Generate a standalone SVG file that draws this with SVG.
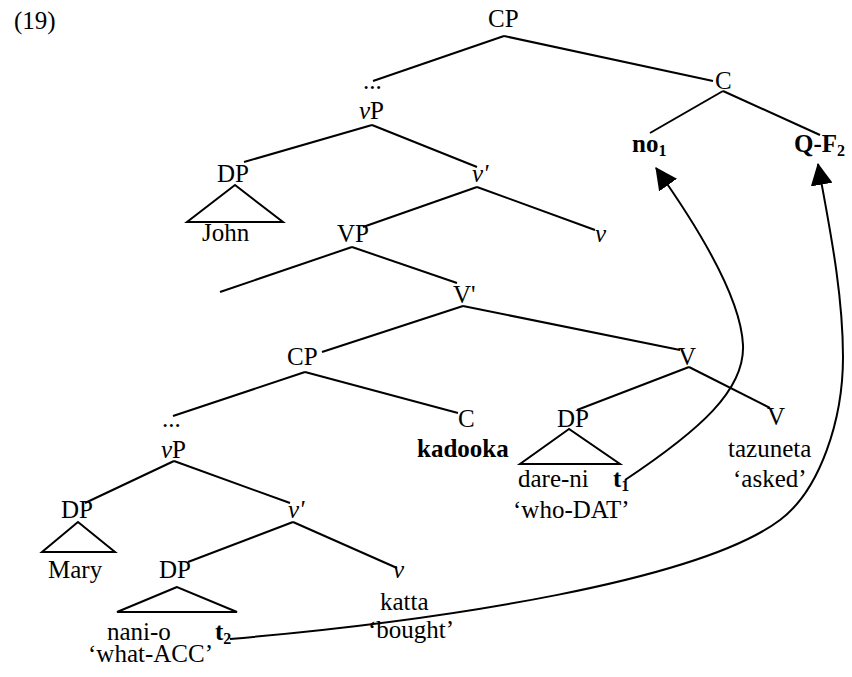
<svg xmlns="http://www.w3.org/2000/svg" width="852" height="677" viewBox="0 0 852 677">
  <style>
    text { font-family: "Liberation Serif", "Times New Roman", serif; font-size: 25px; fill: #000; }
    .b { font-weight: bold; }
    .i { font-style: italic; }
    .sub { font-size: 16px; }
    .edge { stroke: #000; stroke-width: 2; fill: none; }
    .tri { stroke: #000; stroke-width: 2; fill: none; stroke-linejoin: miter; }
    .move { stroke: #000; stroke-width: 2; fill: none; }
  </style>
  <defs>
    <marker id="arrow" markerUnits="userSpaceOnUse" markerWidth="22" markerHeight="22" viewBox="0 0 20 20" refX="19" refY="10" orient="auto">
      <path d="M0,0 L20,10 L0,20 z" fill="#000"/>
    </marker>
  </defs>

  <text x="14" y="29">(19)</text>

  <!-- tree branches -->
  <g id="branches">
    <path class="edge" d="M504,36 L373,81"/>
    <path class="edge" d="M504,36 L713,81"/>
    <path class="edge" d="M723,91 L650,133"/>
    <path class="edge" d="M723,91 L820,135"/>
    <path class="edge" d="M372,125 L244,162"/>
    <path class="edge" d="M372,125 L477,167"/>
    <path class="edge" d="M477,187 L363,227"/>
    <path class="edge" d="M477,187 L595,230"/>
    <path class="edge" d="M352,247 L220,292"/>
    <path class="edge" d="M352,247 L457,283"/>
    <path class="edge" d="M463,306 L322,352"/>
    <path class="edge" d="M463,306 L680,350"/>
    <path class="edge" d="M305,372 L173,416"/>
    <path class="edge" d="M305,372 L458,413"/>
    <path class="edge" d="M689,367 L577,410"/>
    <path class="edge" d="M689,367 L770,408"/>
    <path class="edge" d="M174,461 L85,503"/>
    <path class="edge" d="M174,461 L290,503"/>
    <path class="edge" d="M293,522 L188,562"/>
    <path class="edge" d="M293,522 L397,568"/>
  </g>

  <!-- movement arrows -->
  <g id="movement">
    <path class="move" marker-end="url(#arrow)" d="M625,480 C700,430 745,390 743,345 C741,300 700,230 656,168"/>
    <path class="move" marker-end="url(#arrow)" d="M230,639 C450,620 700,580 780,520 C820,490 843,420 843,357 C843,290 828,220 818,164"/>
  </g>

  <!-- matrix clause -->
  <g id="cp-top"><text x="488" y="27">CP</text></g>
  <g id="dots-top"><text x="363" y="89">...</text></g>
  <g id="c-top"><text x="715" y="89">C</text></g>
  <g id="no1"><text x="632" y="152" class="b">no<tspan class="sub" dy="4">1</tspan></text></g>
  <g id="qf2"><text x="794" y="152" class="b">Q-F<tspan class="sub" dy="4">2</tspan></text></g>
  <g id="vp-top"><text x="359" y="119"><tspan class="i">v</tspan>P</text></g>
  <g id="dp-john">
    <text x="217" y="182">DP</text>
    <polygon class="tri" points="235,185 187,222 283,222"/>
    <text x="202" y="241">John</text>
  </g>
  <g id="vbar-top"><text x="472" y="182" class="i">v'</text></g>
  <g id="v-top"><text x="595" y="242" class="i">v</text></g>
  <g id="VP"><text x="337" y="242">VP</text></g>
  <g id="Vbar"><text x="453" y="303">V'</text></g>
  <g id="cp-emb"><text x="287" y="365">CP</text></g>
  <g id="V-mid"><text x="678" y="365">V</text></g>

  <!-- embedded clause -->
  <g id="dots-emb"><text x="162" y="427">...</text></g>
  <g id="c-emb">
    <text x="458" y="427">C</text>
    <text x="417" y="457" class="b">kadooka</text>
  </g>
  <g id="dp-dare">
    <text x="557" y="427">DP</text>
    <polygon class="tri" points="569,429 520,464 620,464"/>
    <text x="518" y="487">dare-ni</text>
    <text x="613" y="487" class="b">t<tspan class="sub" dy="4">1</tspan></text>
    <text x="513" y="518">‘who-DAT’</text>
  </g>
  <g id="V-low">
    <text x="767" y="425">V</text>
    <text x="728" y="457">tazuneta</text>
    <text x="733" y="487">‘asked’</text>
  </g>
  <g id="vp-emb"><text x="161" y="458"><tspan class="i">v</tspan>P</text></g>
  <g id="dp-mary">
    <text x="61" y="518">DP</text>
    <polygon class="tri" points="78,522 42,552 115,552"/>
    <text x="48" y="578">Mary</text>
  </g>
  <g id="vbar-emb"><text x="288" y="518" class="i">v'</text></g>
  <g id="dp-nani">
    <text x="159" y="578">DP</text>
    <polygon class="tri" points="177,587 117,612 237,612"/>
    <text x="107" y="640">nani-o</text>
    <text x="215" y="640" class="b">t<tspan class="sub" dy="4">2</tspan></text>
    <text x="88" y="662">‘what-ACC’</text>
  </g>
  <g id="v-emb">
    <text x="393" y="578" class="i">v</text>
    <text x="380" y="610">katta</text>
    <text x="368" y="638">‘bought’</text>
  </g>
</svg>
